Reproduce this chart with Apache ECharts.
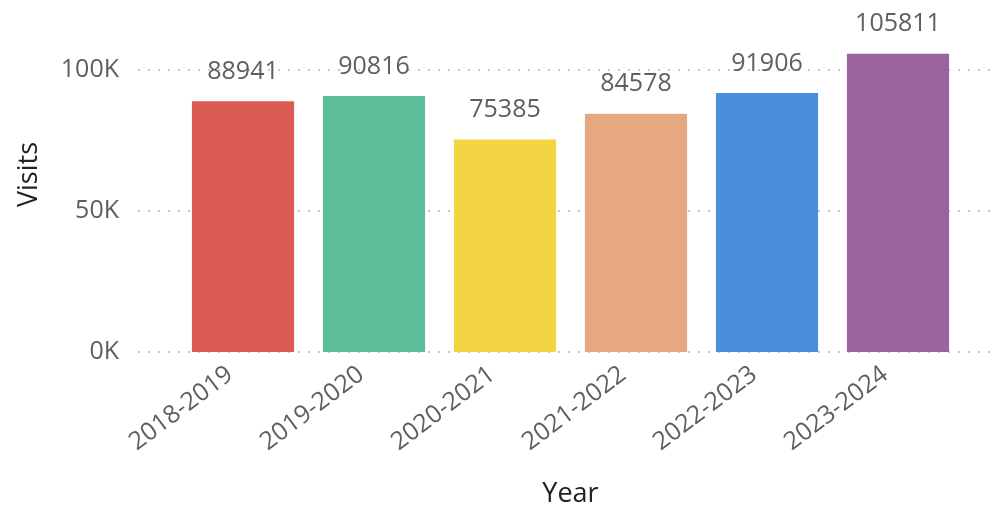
<!DOCTYPE html>
<html><head><meta charset="utf-8">
<script src="https://cdn.jsdelivr.net/npm/echarts@6/dist/echarts.min.js"></script>
<style>html,body{margin:0;padding:0;background:#fff}#c{width:997px;height:510px}</style>
</head><body><div id="c"></div>
<script>
const categories = ['2018-2019','2019-2020','2020-2021','2021-2022','2022-2023','2023-2024'];
const visits = [88941, 90816, 75385, 84578, 91906, 105811];
const barColors = ['#DD5B55','#5DBF9A','#F4D442','#E5A881','#4A8EDE','#9B64A0'];
const yTicks = [0, 50000, 100000];

const font = '"Open Sans", "Noto Sans", sans-serif';
const txt = '#5f5f5f';
const chart = echarts.init(document.getElementById('c'), null, {renderer:'canvas'});
const gTop = 42, gBottom = 158, yMax = 110000;
chart.setOption({
  animation:false,
  grid:[
    {left:138, right:7, top:gTop, bottom:gBottom, containLabel:false, outerBoundsMode:'none'},
    {left:177.5, right:33.5, top:gTop, bottom:gBottom, containLabel:false, outerBoundsMode:'none'}
  ],
  xAxis:[
    {gridIndex:0, type:'value', show:false, min:0, max:1},
    {gridIndex:1, type:'category', data:categories,
     axisLine:{show:false}, axisTick:{show:false},
     axisLabel:{rotate:37, color:txt, fontFamily:font, fontSize:25, margin:10, interval:0, padding:[0,16,0,0]},
     name:'Year', nameLocation:'middle', nameGap:129,
     nameTextStyle:{color:'#222', fontFamily:font, fontSize:27}}
  ],
  yAxis:[
    {gridIndex:0, type:'value', min:0, max:yMax, interval:50000,
     axisLine:{show:false}, axisTick:{show:false},
     axisLabel:{color:txt, fontFamily:font, fontSize:25, margin:19, showMaxLabel:false,
       formatter:v => yTicks.includes(v) ? (v/1000)+'K' : ''},
     splitLine:{show:true, showMaxLine:false, lineStyle:{color:'#c8c8c8', type:[2,8], width:2}}},
    {gridIndex:1, type:'value', min:0, max:yMax, interval:50000, show:false, splitLine:{show:false}}
  ],
  graphic:[{type:'text', left:16, top:142, rotation:Math.PI/2, originX:0, originY:0,
    style:{text:'Visits', fill:'#222', font:'27px ' + font}}],
  series:[{
    type:'bar', xAxisIndex:1, yAxisIndex:1, barCategoryGap:'22%',
    data: visits.map((v,i)=>({value:v, itemStyle:{color:barColors[i]}})),
    label:{show:true, position:'top', distance:17, color:txt, fontFamily:font, fontSize:25}
  }]
});
</script></body></html>
